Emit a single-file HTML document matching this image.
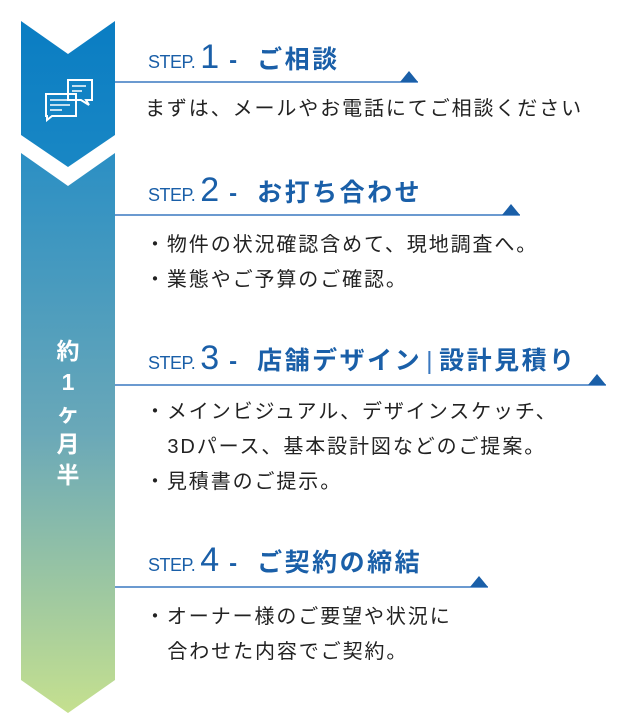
<!DOCTYPE html>
<html><head><meta charset="utf-8"><style>
body{margin:0;width:624px;height:726px;background:#fff;position:relative;overflow:hidden;font-family:"Liberation Sans","Noto Sans CJK JP",sans-serif}
.h{position:absolute;left:148px;color:#1a5fa8;font-weight:bold;white-space:nowrap;line-height:1}
.h .s{font-size:18px;font-weight:normal;letter-spacing:-0.5px}
.h .n{font-size:34px;font-weight:normal;margin:0 10px 0 5px}
.h .d{font-size:24px;margin-right:20px}
.h .t{font-size:25px;letter-spacing:2.5px}
.b{position:absolute;left:145px;font-size:20px;letter-spacing:1.9px;color:#222;white-space:nowrap;line-height:35px}
.v{position:absolute;left:50px;width:36px;text-align:center;color:#fff;font-size:23px;line-height:31px;font-weight:bold}
</style></head><body>
<svg width="624" height="726" style="position:absolute;left:0;top:0">
<defs>
<linearGradient id="g1" x1="0" y1="0" x2="0" y2="1"><stop offset="0" stop-color="#0a7dc3"/><stop offset="1" stop-color="#1987c4"/></linearGradient>
<linearGradient id="g2" x1="0" y1="0" x2="0" y2="1"><stop offset="0" stop-color="#2b8fc4"/><stop offset="0.5" stop-color="#6aa8b8"/><stop offset="1" stop-color="#c5e08f"/></linearGradient>
</defs>
<polygon points="21,21 68,54 115,21 115,135 68,167 21,135" fill="url(#g1)"/>
<polygon points="21,153 68,186 115,153 115,680 68,713 21,680" fill="url(#g2)"/>
<g fill="none" stroke="#fff" stroke-width="2">
<path d="M68,80 h24 v20 h-6 l3,5 -8,-5 h-13z"/>
<path d="M46,94 h30 v22 h-24 l-5,4 0,-4 h-1z"/>
</g>
<g stroke="#fff" stroke-width="1.5">
<line x1="72" y1="86" x2="86" y2="86"/><line x1="72" y1="91" x2="82" y2="91"/>
<line x1="50" y1="100" x2="70" y2="100"/><line x1="50" y1="105" x2="70" y2="105"/><line x1="50" y1="110" x2="62" y2="110"/>
</g>
<g stroke="#3a78c0" stroke-width="1.5">
<line x1="115" y1="82" x2="418" y2="82"/>
<line x1="115" y1="215" x2="520" y2="215"/>
<line x1="115" y1="385" x2="606" y2="385"/>
<line x1="115" y1="587" x2="488" y2="587"/>
</g>
<g fill="#1a5fa8">
<polygon points="400,82 418,82 409,71"/>
<polygon points="502,215 520,215 511,204"/>
<polygon points="588,385 606,385 597,374"/>
<polygon points="470,587 488,587 479,576"/>
</g>
</svg>
<div class="h" style="top:40px"><span class="s">STEP.</span><span class="n">1</span><span class="d">-</span><span class="t">ご相談</span></div>
<div class="b" style="top:92px">まずは、メールやお電話にてご相談ください</div>
<div class="h" style="top:173px"><span class="s">STEP.</span><span class="n">2</span><span class="d">-</span><span class="t">お打ち合わせ</span></div>
<div class="b" style="top:228px">・物件の状況確認含めて、現地調査へ。<br>・業態やご予算のご確認。</div>
<div class="h" style="top:341px"><span class="s">STEP.</span><span class="n">3</span><span class="d">-</span><span class="t">店舗デザイン<span style="font-weight:normal;color:#3a78c0;margin:0 4px">|</span>設計見積り</span></div>
<div class="b" style="top:395px">・メインビジュアル、デザインスケッチ、<br>&nbsp;&nbsp;&nbsp;3Dパース、基本設計図などのご提案。<br>・見積書のご提示。</div>
<div class="h" style="top:543px"><span class="s">STEP.</span><span class="n">4</span><span class="d">-</span><span class="t">ご契約の締結</span></div>
<div class="b" style="top:600px">・オーナー様のご要望や状況に<br>&nbsp;&nbsp;&nbsp;合わせた内容でご契約。</div>
<div class="v" style="top:336px">約<br>1<br>ヶ<br>月<br>半</div>
</body></html>
